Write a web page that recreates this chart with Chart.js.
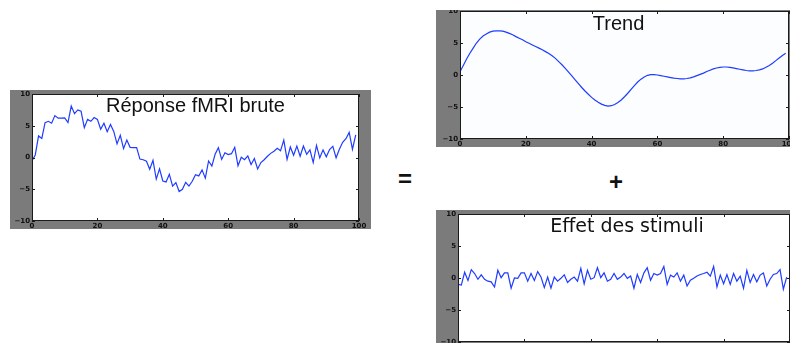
<!DOCTYPE html>
<html>
<head>
<meta charset="utf-8">
<script src="https://cdn.jsdelivr.net/npm/chart.js@4.4.0/dist/chart.umd.min.js"></script>
<style>
  html, body { margin: 0; padding: 0; background: #fff; width: 790px; height: 343px; overflow: hidden; }
  .panel { position: absolute; }
  .sign { position: absolute; font: bold 24px "Liberation Sans", Arial, sans-serif; color: #111; transform: translate(-50%, -50%); line-height: 1; }
</style>
</head>
<body>
<div class="panel" style="left:10px;top:90px;"><canvas id="raw" width="361" height="139"></canvas></div>
<div class="panel" style="left:436px;top:10px;"><canvas id="trend" width="354" height="137"></canvas></div>
<div class="panel" style="left:436px;top:210px;"><canvas id="stim" width="354" height="140"></canvas></div>
<div class="sign" style="left:405px;top:179px;">=</div>
<div class="sign" style="left:616px;top:182px;">+</div>
<script>
// Axis ticks shared by the three panels
const xTickValues = [0, 20, 40, 60, 80, 100];
const yTickValues = [-10, -5, 0, 5, 10];

// Slow drift of the signal
const trendValues = [
  0.5, 1.5, 2.5, 3.4, 4.2, 5.0, 5.6, 6.1, 6.4, 6.7,
  6.85, 6.9, 6.9, 6.85, 6.7, 6.5, 6.3, 6.0, 5.75, 5.5,
  5.2, 4.95, 4.7, 4.45, 4.2, 3.95, 3.65, 3.35, 3.0, 2.6,
  2.1, 1.6, 1.05, 0.45, -0.15, -0.75, -1.35, -1.95, -2.5, -3.0,
  -3.5, -3.9, -4.25, -4.55, -4.75, -4.85, -4.8, -4.6, -4.3, -3.9,
  -3.4, -2.85, -2.25, -1.65, -1.1, -0.65, -0.3, -0.05, 0.05, 0.05,
  0.0, -0.1, -0.2, -0.3, -0.4, -0.5, -0.55, -0.6, -0.6, -0.55,
  -0.45, -0.3, -0.1, 0.1, 0.3, 0.55, 0.75, 0.95, 1.1, 1.2,
  1.25, 1.25, 1.2, 1.1, 1.0, 0.9, 0.8, 0.7, 0.65, 0.65,
  0.7, 0.8, 0.95, 1.2, 1.5, 1.85, 2.25, 2.65, 3.05, 3.4
];

// Stimulus-driven component
const stimulusValues = [
  -1.0, -1.1, 0.9, -0.4, 1.3, 0.7, -0.2, 0.5, -0.2, -0.5,
  -0.6, -1.4, 1.2, 0.05, 0.8, 0.8, -1.6, 0.0, -0.05, 0.8,
  0.8, -0.5, 0.7, -0.4, 1.0, 0.15, -1.5, 0.15, -1.6, 0.15,
  -0.5, -0.05, 0.5, -0.7, -0.2, 0.15, -0.5, 1.5, -0.9, 1.2,
  -0.2, 0.05, 1.6, 0.05, 0.8, -0.5, -0.2, 0.7, -0.2, 0.15,
  0.7, -0.05, 0.3, -1.6, 0.55, -0.7, 0.8, 1.6, -0.35, 0.7,
  0.45, 0.7, 1.8, -1.0, 0.45, 0.15, 0.8, -0.5, 0.45, -1.25,
  -0.35, -0.05, 0.3, 0.55, 0.7, 0.9, 0.3, 1.8, -1.4, 0.45,
  -0.9, 0.55, -1.0, 0.7, -0.5, 0.3, -1.6, 1.2, -0.7, 0.55,
  -0.6, 0.45, 0.8, -1.25, -0.2, 0.55, 0.7, 1.3, -1.75, 0.15
];

// Measured response (drift + stimulus effect)
const rawValues = [
  -0.5, 0.4, 3.4, 3.0, 5.5, 5.7, 5.4, 6.6, 6.2, 6.2,
  6.25, 5.5, 8.1, 6.9, 7.5, 7.3, 4.7, 6.0, 5.7, 6.3,
  6.0, 4.45, 5.4, 4.05, 5.2, 4.1, 2.15, 3.5, 1.4, 2.75,
  1.6, 1.55, 1.55, -0.25, -0.35, -0.6, -1.85, -0.45, -3.4, -1.8,
  -3.7, -3.85, -2.65, -4.5, -3.95, -5.35, -5.0, -3.9, -4.5, -3.75,
  -2.7, -2.9, -1.95, -3.25, -0.55, -1.35, 0.5, 1.55, -0.3, 0.75,
  0.45, 0.6, 1.6, -1.3, 0.05, -0.35, 0.25, -1.1, -0.15, -1.8,
  -0.8, -0.35, 0.2, 0.65, 1.0, 1.45, 1.05, 2.75, -0.3, 1.65,
  0.35, 1.8, 0.2, 1.8, 0.5, 1.2, -0.8, 1.9, -0.05, 1.2,
  0.1, 1.25, 1.75, -0.05, 1.3, 2.4, 2.95, 3.95, 1.3, 3.55
];

const FRAME_GREY = '#7b7b7b';
const LINE_BLUE = '#1f3cff';
const TICK_FONT = { family: 'DejaVu Sans', size: 7, weight: 'bold' };

function fmtTick(v) {
  return v < 0 ? '\u2212' + Math.abs(v) : String(v);
}

// Grey frame, plot background, border, inward tick marks and in-plot title
const framePlugin = {
  id: 'frame',
  beforeDraw(chart, args, opts) {
    const { ctx, chartArea: a } = chart;
    ctx.save();
    ctx.fillStyle = FRAME_GREY;
    ctx.fillRect(0, 0, chart.width, chart.height);
    ctx.fillStyle = opts.plotBg || '#ffffff';
    ctx.fillRect(a.left, a.top, a.right - a.left, a.bottom - a.top);
    ctx.restore();
  },
  afterDatasetsDraw(chart, args, opts) {
    const { ctx, chartArea: a, scales } = chart;
    ctx.save();
    ctx.strokeStyle = '#1a1a1a';
    ctx.lineWidth = 1;
    ctx.strokeRect(a.left + 0.5, a.top + 0.5, a.right - a.left - 1, a.bottom - a.top - 1);
    const tl = 3;
    ctx.beginPath();
    xTickValues.forEach(v => {
      const x = Math.round(scales.x.getPixelForValue(v)) + 0.5;
      ctx.moveTo(x, a.top); ctx.lineTo(x, a.top + tl);
      ctx.moveTo(x, a.bottom); ctx.lineTo(x, a.bottom - tl);
    });
    yTickValues.forEach(v => {
      const y = Math.round(scales.y.getPixelForValue(v)) + 0.5;
      ctx.moveTo(a.left, y); ctx.lineTo(a.left + tl, y);
      ctx.moveTo(a.right, y); ctx.lineTo(a.right - tl, y);
    });
    ctx.stroke();
    ctx.fillStyle = '#111';
    ctx.font = opts.titleFont;
    ctx.textAlign = 'center';
    ctx.textBaseline = 'alphabetic';
    ctx.fillText(opts.title, (a.left + a.right) / 2 + (opts.titleDx || 0), a.top + opts.titleDy);
    ctx.restore();
  }
};

function makePanel(id, values, cfg) {
  new Chart(document.getElementById(id), {
    type: 'line',
    data: {
      datasets: [{
        data: values.map((v, i) => ({ x: i, y: v })),
        borderColor: LINE_BLUE,
        borderWidth: 1.2,
        pointRadius: 0,
        tension: 0,
        fill: false
      }]
    },
    options: {
      responsive: false,
      animation: false,
      devicePixelRatio: 1,
      layout: { padding: { top: cfg.padTop, right: cfg.padRight, left: 0, bottom: 0 } },
      plugins: {
        legend: { display: false },
        tooltip: { enabled: false },
        frame: {
          title: cfg.title,
          titleFont: cfg.titleFont,
          titleDy: cfg.titleDy,
          titleDx: cfg.titleDx,
          plotBg: cfg.plotBg
        }
      },
      scales: {
        x: {
          type: 'linear',
          min: 0, max: 100,
          grid: { display: false, drawTicks: false },
          border: { display: false },
          afterBuildTicks: s => { s.ticks = xTickValues.map(v => ({ value: v })); },
          afterFit: s => { s.height = 8; s.paddingLeft = 0; s.paddingRight = 0; },
          ticks: { autoSkip: false, maxRotation: 0, padding: 1, color: '#111', font: TICK_FONT, callback: fmtTick }
        },
        y: {
          type: 'linear',
          min: -10, max: 10,
          grid: { display: false, drawTicks: false },
          border: { display: false },
          afterBuildTicks: s => { s.ticks = yTickValues.map(v => ({ value: v })); },
          afterFit: s => { s.width = cfg.yWidth; s.paddingTop = 0; s.paddingBottom = 0; },
          ticks: { autoSkip: false, padding: 2, color: '#111', font: TICK_FONT, callback: fmtTick }
        }
      }
    },
    plugins: [framePlugin]
  });
}

makePanel('raw', rawValues, {
  padTop: 4, padRight: 12, yWidth: 22,
  title: 'Réponse fMRI brute',
  titleFont: '20px "Liberation Sans", Arial, sans-serif',
  titleDy: 18, titleDx: 0, plotBg: '#ffffff'
});

makePanel('trend', trendValues, {
  padTop: 1, padRight: 1, yWidth: 24,
  title: 'Trend',
  titleFont: '20px "Liberation Sans", Arial, sans-serif',
  titleDy: 19, titleDx: -6, plotBg: '#fbfdff'
});

makePanel('stim', stimulusValues, {
  padTop: 4, padRight: 0, yWidth: 22,
  title: 'Effet des stimuli',
  titleFont: '19px "DejaVu Sans", sans-serif',
  titleDy: 18, titleDx: 3, plotBg: '#ffffff'
});
</script>
</body>
</html>
